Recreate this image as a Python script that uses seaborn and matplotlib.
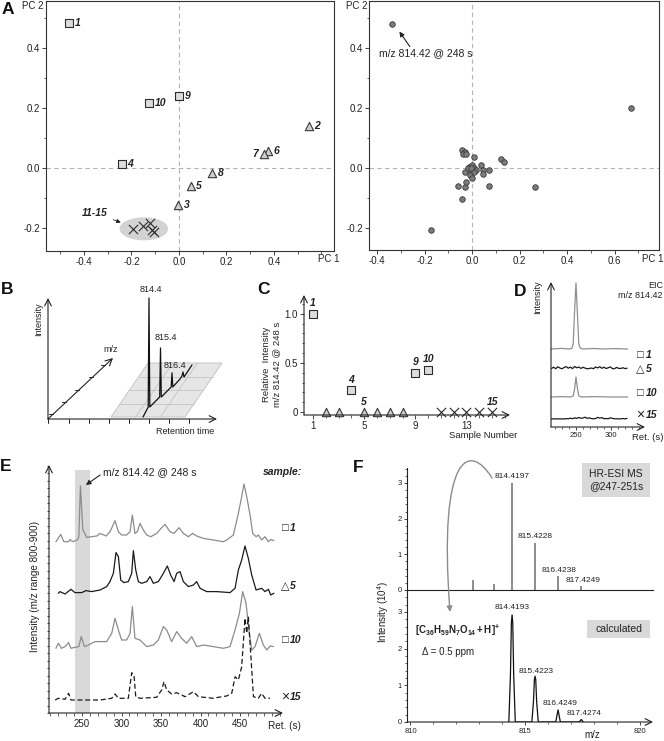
import matplotlib
matplotlib.use("Agg")
import numpy as np
import pandas as pd
import matplotlib.pyplot as plt
import seaborn as sns
from matplotlib.patches import Ellipse, Polygon, Rectangle, FancyArrowPatch
from matplotlib.path import Path
from matplotlib.ticker import MultipleLocator, FixedLocator, FixedFormatter, FormatStrFormatter, NullFormatter

# ------------------------------------------------------------------ data
samples = [1, 2, 3, 4, 5, 6, 7, 8, 9, 10, 11, 12, 13, 14, 15]
sample_group = ['sq', 'tri', 'tri', 'sq', 'tri', 'tri', 'tri', 'tri', 'sq', 'sq',
                'x', 'x', 'x', 'x', 'x']

# A: PCA scores
score_pc1 = [-0.463, 0.547, -0.004, -0.240, 0.050, 0.375, 0.358, 0.139, 0.000, -0.126,
             -0.194, -0.152, -0.122, -0.114, -0.105]
score_pc2 = [0.483, 0.140, -0.123, 0.013, -0.060, 0.057, 0.047, -0.017, 0.240, 0.217,
             -0.203, -0.193, -0.183, -0.207, -0.213]
A_labelled = [1, 2, 3, 4, 5, 6, 7, 8, 9, 10]

# A: PCA loadings
load_pc1 = [-0.337, 0.671, 0.267, -0.171, -0.042, -0.059, -0.028, -0.024, 0.073, -0.042,
            -0.031, -0.039, -0.024, 0.010, 0.122, 0.133, 0.039, 0.045, 0.045, 0.070,
            -0.014, 0.000, 0.007, 0.017, -0.007, 0.007, -0.031, -0.010, 0.000, -0.018, -0.003]
load_pc2 = [0.482, 0.199, -0.064, -0.207, -0.104, -0.059, -0.062, -0.046, -0.059, 0.062,
            0.054, 0.047, 0.047, 0.036, 0.030, 0.022, 0.012, -0.007, -0.018, -0.007,
            0.004, 0.010, -0.001, -0.007, -0.012, -0.012, -0.012, -0.023, -0.034, -0.001, -0.001]

# B: schematic mass spectrum
B_mz = [814.4, 815.4, 816.4]
B_rel = [1.0, 0.45, 0.13]

# C: relative intensity of m/z 814.42 @ 248 s
C_rel = [1.0, 0, 0, 0.22, 0, 0, 0, 0, 0.40, 0.43, 0, 0, 0, 0, 0]
C_labelled = [1, 4, 5, 9, 10, 15]

# D: EIC traces (time s, intensity)
D_names = ['1', '5', '10', '15']
D_symbols = ['\u25a1', '\u25b3', '\u25a1', '\u00d7']
D_t1 = [214, 230, 240, 244, 246, 248, 250, 252, 254, 256, 260, 275, 290, 305, 324]
D_i1 = [0, 0.6, 0, 0.5, 5, 38, 66, 36, 5, 1, 0, 0.5, 0, 0.4, 0]
D_t5 = [215, 218, 221, 224, 227, 230, 233, 236, 239, 242, 245, 248, 251, 254, 257, 260, 263,
        266, 269, 272, 275, 278, 281, 284, 287, 290, 293, 296, 299, 302, 305, 308, 311, 314,
        317, 320, 323]
D_i5 = [0.5, 1.8, 0.3, 2.2, 1.0, 0.2, 1.5, 2.4, 0.8, 1.9, 0.4, 2.5, 1.2, 2.0, 0.6, 1.7, 0.9,
        0.2, 0.5, 1.0, 0.3, 2.0, 1.1, 2.3, 0.7, 1.8, 0.5, 1.2, 2.1, 0.4, 0.3, 1.6, 0.6, 0.5,
        1.3, 0.4, 0.8]
D_t10 = [214, 230, 242, 246, 248, 250, 252, 254, 258, 275, 300, 324]
D_i10 = [0, 0.4, 0, 1, 8, 20, 9, 1, 0, 0.4, 0, 0]
D_t15 = D_t5
D_i15 = [0, 0.2, 0, 0.3, 0, 0.2, 0, 0.4, 0.2, 0.8, 0.3, 1.2, 0.6, 1.5, 0.8, 1.0, 1.8, 0.6,
         1.2, 0.4, 0.2, 0.5, 1.6, 0.9, 1.4, 0.3, 0.5, 0.2, 1.2, 0.6, 0.2, 0.3, 0, 0.2, 0.5,
         0.1, 0.6]

# E: base peak chromatograms m/z 800-900
E_names = ['1', '5', '10', '15']
E_t1 = [217, 223, 227, 233, 235, 238, 244, 246, 248, 251, 256, 262, 268.6, 272.8, 280.4,
        285.4, 291.8, 296, 300.2, 306.5, 310.8, 313.7, 317, 320, 323.4, 327.6, 331.9, 337,
        344.5, 350, 355, 361.4, 366.5, 372.8, 378.3, 384.6, 390, 395.1, 403.6, 416.2, 428.9,
        433.1, 441.6, 447.9, 452.1, 455, 458.5, 462.7, 466.1, 470.3, 473.2, 477.4, 481.6,
        485.9, 488.8, 493]
E_i1 = [0, 7.3, 0, 0, 2.3, 0, 1.7, 5, 55.7, 12, 4.3, 5, 5.7, 8.3, 5.7, 10, 21, 10, 6.7, 6.7,
        10, 26.7, 8.3, 10, 18.3, 11.7, 6.7, 5, 8.3, 13.3, 17.3, 10, 8.3, 14, 8.3, 5, 8.3, 5.7,
        3.3, 1.7, 0, 1.7, 6.7, 28.3, 45, 57.7, 45, 26.7, 8.3, 5, 6.7, 1.7, 5, 0, 2.3, 1]
E_t5 = [220, 222, 228.5, 236, 241, 249.6, 255, 262, 272.8, 281.2, 285.4, 289.7, 293, 296,
        299, 303, 308.6, 312.9, 315, 318, 321.3, 325.5, 331.9, 336, 340.3, 346.6, 353, 358,
        362.2, 366.5, 369.8, 374, 378.3, 384.6, 391, 395.1, 399.4, 407.8, 420.5, 437.3,
        443.7, 447.9, 452.1, 456.3, 460.5, 464.8, 470.3, 477.4, 481.6, 485.9, 488.8, 493]
E_i5 = [0, 1.7, -0.7, 4, 0.7, 0.7, 2.7, 1.7, 3.3, 6.7, 11.7, 20, 40.7, 36.7, 13.3, 10.7,
        11.7, 20, 42.7, 23.3, 11.7, 10, 11.7, 16.7, 10, 11.7, 20, 27.3, 18.3, 11.7, 20, 21.7,
        11.7, 6.7, 8.3, 11.7, 5, 1.7, 1.7, 0.7, 5, 23.3, 33.3, 47.3, 35, 18.3, 3.3, 5, 1.7,
        4, -1.7, 0]
E_t10 = [217, 220, 224, 228.5, 233, 236, 241, 246, 249, 253, 258, 266.5, 272.8, 281.2,
         287.6, 291.8, 296, 300.2, 306.5, 310.8, 313.7, 317, 323.4, 331.9, 340.3, 346.6, 353,
         357.2, 363.5, 369.8, 376, 382.5, 388.8, 395.1, 403.6, 416.2, 428.9, 437.3, 443.7,
         449.2, 453.4, 457.6, 461.8, 464.8, 469, 474.5, 479.5, 483.8, 488, 492.2]
E_i10 = [0, 5, 0, 1.7, 5.7, 0, 1, 1.7, 11.7, 1.7, 3.3, 6.7, 6.7, 6.7, 15, 30, 18.3, 8.3, 8.3,
         15, 41.7, 10, 8.3, 1.7, 3.3, 8.3, 21.7, 18.3, 6.7, 16.7, 10, 5, 11.7, 1.7, 3.3, 1.7,
         0, 1.7, 18.3, 35, 56.7, 45, 15, -1.7, 1.7, 15, 3.3, -1.7, 2.3, 1.7]
E_t15 = [216, 220, 228.5, 233, 236, 247.5, 272.8, 287.6, 291.8, 296, 308.6, 312.9, 315.8,
         318, 323.4, 344.5, 350.8, 353.8, 357.2, 363.5, 369.8, 376, 380.4, 391, 397.3, 416.2,
         426.8, 433.1, 439.5, 443.7, 447.9, 452.1, 456.3, 458.5, 460.5, 463.5, 467, 473.2,
         477.4, 481.6, 488]
E_i15 = [0, 1.7, 0.7, 6.7, 0, 0, 0, 1.7, 6, 1.7, 1.7, 27.3, 25, 3.3, 1.7, 2.7, 10, 18.3, 10,
         6, 7.3, 5, 3.3, 8.3, 3.3, 1.7, 3.3, 4, 6.7, 23.3, 20, 33.3, 81.7, 66.7, 83.3, 46.7,
         3.3, 1.7, 6.7, 1.7, 1.7]
E_band = [240.5, 260]

# F: HR-ESI MS (measured sticks) and calculated isotope pattern
F_exp_mz = [812.70, 813.62, 814.4197, 815.4228, 816.4238, 817.4249]
F_exp_int = [0.28, 0.18, 3.0, 1.32, 0.38, 0.10]
F_exp_labels = ['', '', '814.4197', '815.4228', '816.4238', '817.4249']
F_calc_mz = [814.28, 814.35, 814.39, 814.42, 814.45, 814.49, 814.56,
             815.28, 815.35, 815.39, 815.42, 815.45, 815.49, 815.56,
             816.32, 816.38, 816.42, 816.46, 816.52,
             817.34, 817.43, 817.52]
F_calc_int = [0, 1.3, 2.7, 2.92, 2.7, 1.3, 0,
              0, 0.55, 1.15, 1.25, 1.15, 0.55, 0,
              0, 0.2, 0.33, 0.2, 0,
              0, 0.07, 0]
F_calc_peaks = [814.4193, 815.4223, 816.4249, 817.4274]
F_calc_heights = [2.92, 1.25, 0.33, 0.07]

# ------------------------------------------------------------------ style
sns.set_theme(style="ticks")
plt.rcParams['font.family'] = ['Liberation Sans', 'DejaVu Sans']
plt.rcParams['mathtext.fontset'] = 'custom'
plt.rcParams['mathtext.rm'] = 'Liberation Sans'
plt.rcParams['mathtext.it'] = 'Liberation Sans:italic'
plt.rcParams['mathtext.bf'] = 'Liberation Sans:bold'
plt.rcParams['axes.unicode_minus'] = False
plt.rcParams['axes.facecolor'] = 'white'

INK = '#222222'
W, H = 664, 741
fig = plt.figure(figsize=(W / 100, H / 100), dpi=100)
fig.patch.set_facecolor('white')


def box(x0, y0, x1, y1):
    ax = fig.add_axes([x0 / W, 1 - y1 / H, (x1 - x0) / W, (y1 - y0) / H])
    ax.patch.set_alpha(0)
    return ax


def ftext(x, y, s, **kw):
    kw.setdefault('ha', 'center')
    kw.setdefault('va', 'center')
    kw.setdefault('color', INK)
    return fig.text(x / W, 1 - y / H, s, **kw)


def arrow_axes(ax, x=True, y=True):
    for sp in ax.spines.values():
        sp.set_visible(False)
    ap = dict(arrowstyle='->', lw=0.8, color=INK, shrinkA=0, shrinkB=0)
    if x:
        ax.annotate('', xy=(1, 0), xytext=(0, 0), xycoords='axes fraction',
                    arrowprops=ap, annotation_clip=False)
    if y:
        ax.annotate('', xy=(0, 1), xytext=(0, 0), xycoords='axes fraction',
                    arrowprops=ap, annotation_clip=False)


def ticks(ax, size=7, major=3, minor=1.8, pad=1.5):
    ax.tick_params(which='major', direction='out', length=major, width=0.6, color=INK,
                   labelsize=size, labelcolor=INK, pad=pad)
    ax.tick_params(which='minor', direction='out', length=minor, width=0.5, color=INK)


MARK = {
    'sq': dict(marker='s', s=28, color='#dcdcdc', edgecolor='#2b2b2b', linewidth=0.8),
    'tri': dict(marker='^', s=36, color='#cfcfcf', edgecolor='#3a3a3a', linewidth=0.8),
    'x': dict(marker='x', s=44, color='#2b2b2b', linewidth=0.8),
}
NUM = dict(fontsize=7.5, fontweight='bold', fontstyle='italic', color=INK)

# ------------------------------------------------------------------ A left: scores
axA1 = box(46, 1, 334, 251)
dfA = pd.DataFrame({'pc1': score_pc1, 'pc2': score_pc2, 'group': sample_group,
                    'sample': samples})
axA1.add_patch(Ellipse((-0.148, -0.203), 0.205, 0.077, facecolor='#d3d3d3',
                       edgecolor='none', zorder=1))
axA1.axhline(0, color='#b3b3b3', lw=0.8, ls=(0, (4, 3)), zorder=0.5)
axA1.axvline(0, color='#b3b3b3', lw=0.8, ls=(0, (4, 3)), zorder=0.5)
for g, st in MARK.items():
    sns.scatterplot(data=dfA[dfA.group == g], x='pc1', y='pc2', ax=axA1, legend=False,
                    zorder=3, **st)
for smp, x, y in zip(samples, score_pc1, score_pc2):
    if smp in A_labelled:
        left = smp == 7
        axA1.annotate(str(smp), (x, y), xytext=(-4 if left else 4, 0),
                      textcoords='offset points', ha='right' if left else 'left',
                      va='center', **NUM)
axA1.annotate('11-15', xy=(-0.245, -0.182), xytext=(-0.356, -0.149),
              ha='center', va='center', **NUM,
              arrowprops=dict(arrowstyle='-|>', lw=0.6, color=INK, mutation_scale=6,
                              shrinkA=2, shrinkB=0))
axA1.set(xlim=(-0.56, 0.653), ylim=(-0.277, 0.557), xlabel='', ylabel='')
axA1.xaxis.set_major_locator(FixedLocator([-0.4, -0.2, 0.0, 0.2, 0.4]))
axA1.yaxis.set_major_locator(FixedLocator([-0.2, 0.0, 0.2, 0.4]))
for a in (axA1.xaxis, axA1.yaxis):
    a.set_minor_locator(MultipleLocator(0.1))
    a.set_major_formatter(FormatStrFormatter('%.1f'))
for sp in axA1.spines.values():
    sp.set_visible(True)
    sp.set_color('#333333')
    sp.set_linewidth(0.8)
ticks(axA1, size=7, major=3, minor=1.8)
ftext(43, 6, 'PC 2', ha='right', fontsize=7)
ftext(340, 259, 'PC 1', ha='right', fontsize=7)

# ------------------------------------------------------------------ A right: loadings
axA2 = box(369, 1, 659, 250)
axA2.axhline(0, color='#b3b3b3', lw=0.8, ls=(0, (4, 3)), zorder=0.5)
axA2.axvline(0, color='#b3b3b3', lw=0.8, ls=(0, (4, 3)), zorder=0.5)
sns.scatterplot(x=load_pc1, y=load_pc2, ax=axA2, s=16, color='#7b7b7b',
                edgecolor='#3a3a3a', linewidth=0.6, legend=False, zorder=3)
axA2.text(-0.393, 0.383, 'm/z 814.42 @ 248 s', fontsize=7.5, ha='left', va='center',
          color=INK)
axA2.annotate('', xy=(-0.306, 0.455), xytext=(-0.262, 0.405),
              arrowprops=dict(arrowstyle='-|>', lw=0.8, color=INK, mutation_scale=7,
                              shrinkA=0, shrinkB=0))
axA2.set(xlim=(-0.434, 0.787), ylim=(-0.273, 0.557), xlabel='', ylabel='')
axA2.xaxis.set_major_locator(FixedLocator([-0.4, -0.2, 0.0, 0.2, 0.4, 0.6]))
axA2.yaxis.set_major_locator(FixedLocator([-0.2, 0.0, 0.2, 0.4]))
for a in (axA2.xaxis, axA2.yaxis):
    a.set_minor_locator(MultipleLocator(0.1))
    a.set_major_formatter(FormatStrFormatter('%.1f'))
for sp in axA2.spines.values():
    sp.set_visible(True)
    sp.set_color('#333333')
    sp.set_linewidth(0.8)
ticks(axA2, size=7, major=3, minor=1.8)
ftext(367, 6, 'PC 2', ha='right', fontsize=7)
ftext(663, 259, 'PC 1', ha='right', fontsize=7)

# ------------------------------------------------------------------ B: schematic
axB = box(20, 280, 232, 442)
axB.set_xlim(20, 232)
axB.set_ylim(442, 280)
axB.axis('off')
BL, BR, TR, TL = (111, 417), (185, 417), (222, 363), (148, 363)
axB.add_patch(Polygon([BL, BR, TR, TL], closed=True, facecolor='#e6e6e6',
                      edgecolor='#bfbfbf', lw=0.6, zorder=1))
for k in (1, 2, 3):
    yy = 417 - k * 54 / 4
    axB.plot([111 + k * 37 / 4, 185 + k * 37 / 4], [yy, yy], color='#c4c4c4', lw=0.6, zorder=1)
for k in (1, 2):
    axB.plot([111 + k * 74 / 3, 148 + k * 74 / 3], [417, 363], color='#c4c4c4', lw=0.6, zorder=1)
bap = dict(arrowstyle='->', lw=0.8, color=INK, shrinkA=0, shrinkB=0)
axB.annotate('', xy=(48, 298), xytext=(48, 419), arrowprops=bap)
axB.annotate('', xy=(217, 419), xytext=(48, 419), arrowprops=bap)
axB.annotate('', xy=(113, 358), xytext=(48, 419), arrowprops=bap)
for xt in (48, 69, 89, 109, 129, 149, 169, 189):
    axB.plot([xt, xt], [419, 423], color=INK, lw=0.7)
for f in (0.08, 0.28, 0.48, 0.69, 0.88):
    px, py = 48 + 65 * f, 419 - 61 * f
    axB.plot([px - 4, px], [py, py], color=INK, lw=0.7)
sx, sy = [143], [417]
for mz, rel in zip(B_mz, B_rel):
    bx = 149 + (mz - 814.4) * 11.5
    by = 407 - (mz - 814.4) * 10
    sx += [bx - 0.8, bx, bx + 0.8]
    sy += [by, by - rel * 109, by]
sx += [180, 182, 183, 184, 192]
sy += [379, 376, 372, 377, 365]
axB.plot(sx, sy, color='#111111', lw=0.9, zorder=3)
for mz, (lx, ly) in zip(B_mz, [(151, 290), (166, 338), (175, 366)]):
    axB.text(lx, ly, f'{mz:.1f}', fontsize=6.5, ha='center', va='center', color=INK, zorder=4)
axB.text(39, 319, 'Intensity', rotation=90, fontsize=6.5, ha='center', va='center', color=INK)
axB.text(111, 350, 'm/z', fontsize=6.5, ha='center', va='center', color=INK)
axB.text(185, 432, 'Retention time', fontsize=6.5, ha='center', va='center', color=INK)

# ------------------------------------------------------------------ C
axC = box(304, 295, 510, 415)
dfC = pd.DataFrame({'sample': samples, 'rel': C_rel, 'group': sample_group})
for g, st in MARK.items():
    sns.scatterplot(data=dfC[dfC.group == g], x='sample', y='rel', ax=axC, legend=False,
                    zorder=3, clip_on=False, **st)
for smp, v in zip(samples, C_rel):
    if smp in C_labelled:
        axC.annotate(str(smp), (smp, v), xytext=(0, 7.5), textcoords='offset points',
                     ha='center', va='center', **NUM)
axC.set(xlim=(0.3, 16.4), ylim=(-0.03, 1.19), xlabel='', ylabel='')
arrow_axes(axC)
axC.xaxis.set_major_locator(FixedLocator([1, 5, 9, 13]))
axC.xaxis.set_minor_locator(MultipleLocator(1))
axC.yaxis.set_major_locator(FixedLocator([0, 0.5, 1.0]))
axC.yaxis.set_major_formatter(FixedFormatter(['0', '0.5', '1.0']))
axC.yaxis.set_minor_locator(MultipleLocator(0.1))
ticks(axC, size=7, major=3, minor=1.8)
ftext(483, 435, 'Sample Number', fontsize=6.8)
ftext(272, 364, 'Relative  Intensity\nm/z 814.42 @ 248 s', rotation=90, fontsize=6.8,
      linespacing=1.15)

# ------------------------------------------------------------------ D
axD = box(551, 282, 645, 427)
D_traces = [(D_t1, D_i1), (D_t5, D_i5), (D_t10, D_i10), (D_t15, D_i15)]
D_offsets = [78, 58, 30, 8]
D_colors = ['#8f8f8f', '#1a1a1a', '#8f8f8f', '#1a1a1a']
for (t, it), off, c in zip(D_traces, D_offsets, D_colors):
    sns.lineplot(x=np.array(t, float), y=np.array(it, float) + off, ax=axD, color=c,
                 lw=0.9, estimator=None, sort=False, legend=False)
axD.set(xlim=(214.3, 348.6), ylim=(0, 145), xlabel='', ylabel='')
arrow_axes(axD)
axD.xaxis.set_major_locator(FixedLocator([250, 300]))
axD.xaxis.set_minor_locator(MultipleLocator(10))
axD.yaxis.set_major_locator(FixedLocator([]))
ticks(axD, size=5.5, major=2.5, minor=1.6, pad=1)
for nm, sym, yy in zip(D_names, D_symbols, [355, 369, 393, 415]):
    ftext(640, yy, sym, fontsize=8 if sym != '\u00d7' else 10)
    ftext(646, yy, nm, ha='left', **NUM)
ftext(663, 285, 'EIC', ha='right', fontsize=6.5)
ftext(663, 296, 'm/z 814.42', ha='right', fontsize=6.5)
ftext(538, 297, 'Intensity', rotation=90, fontsize=6.5)
ftext(648, 437, 'Ret. (s)', fontsize=6.8)

# ------------------------------------------------------------------ E
axE = box(49, 465, 283, 713)
axE.axvspan(E_band[0], E_band[1], ymin=0, ymax=243 / 248, color='#d9d9d9', lw=0, zorder=0)
E_traces = [(E_t1, E_i1), (E_t5, E_i5), (E_t10, E_i10), (E_t15, E_i15)]
E_offsets = [171.3, 119.7, 64.7, 13]
E_colors = ['#8c8c8c', '#1a1a1a', '#8c8c8c', '#1a1a1a']
for k, ((t, it), off, c) in enumerate(zip(E_traces, E_offsets, E_colors)):
    sns.lineplot(x=np.array(t, float), y=np.array(it, float) + off, ax=axE, color=c,
                 lw=0.9, estimator=None, sort=False, legend=False)
    if k == 3:
        axE.lines[-1].set_dashes([4, 2.2])
axE.set(xlim=(208.2, 504.4), ylim=(0, 248), xlabel='', ylabel='')
arrow_axes(axE)
axE.xaxis.set_major_locator(FixedLocator([250, 300, 350, 400, 450]))
axE.xaxis.set_minor_locator(MultipleLocator(10))
axE.yaxis.set_major_locator(MultipleLocator(7.5))
axE.yaxis.set_major_formatter(NullFormatter())
ticks(axE, size=7, major=2.5, minor=1.8, pad=2)
axE.tick_params(axis='y', which='major', length=1.8)
axE.annotate('', xy=(255, 228), xytext=(272.8, 238),
             arrowprops=dict(arrowstyle='-|>', lw=0.8, color=INK, mutation_scale=7,
                             shrinkA=0, shrinkB=0))
axE.text(276.5, 241, 'm/z 814.42 @ 248 s', fontsize=7.5, ha='left', va='center', color=INK)
ftext(302, 472, 'sample:', ha='right', **NUM)
for nm, sym, yy in zip(E_names, D_symbols, [528, 586, 640, 697]):
    ftext(285, yy, sym, fontsize=8 if sym != '\u00d7' else 10)
    ftext(290, yy, nm, ha='left', **NUM)
ftext(35, 587, 'Intensity (m/z range 800-900)', rotation=90, fontsize=7.2)
ftext(284, 726, 'Ret. (s)', fontsize=7.2)

# ------------------------------------------------------------------ F
XL = (809.85, 820.55)
axF1 = box(407, 468, 653, 590)
axF1.vlines(F_exp_mz, 0, F_exp_int, color='#6e6e6e', lw=1.1)
for mz, v, lab in zip(F_exp_mz, F_exp_int, F_exp_labels):
    if lab:
        dx = {'814.4197': 0, '815.4228': 0, '816.4238': 0.05, '817.4249': 0.1}[lab]
        axF1.text(mz + dx, v + 0.17, lab, fontsize=6, ha='center', va='center', color=INK)
axF1.set(xlim=XL, ylim=(0, 3.42), xlabel='', ylabel='')
for s in ('top', 'right'):
    axF1.spines[s].set_visible(False)
for s in ('left', 'bottom'):
    axF1.spines[s].set_color(INK)
    axF1.spines[s].set_linewidth(0.8)
axF1.yaxis.set_major_locator(FixedLocator([0, 1, 2, 3]))
axF1.yaxis.set_minor_locator(MultipleLocator(0.2))
ticks(axF1, size=5.5, major=2.5, minor=1.5, pad=1.5)
axF1.tick_params(axis='x', which='both', bottom=False, labelbottom=False)

axF2 = box(407, 590, 653, 722)
sns.lineplot(x=F_calc_mz, y=F_calc_int, ax=axF2, color='#111111', lw=0.9,
             estimator=None, sort=False, legend=False)
for mz, v, (dx, dy) in zip(F_calc_peaks, F_calc_heights,
                           [(0, 0.2), (0.03, 0.14), (0.08, 0.18), (0.13, 0.17)]):
    axF2.text(mz + dx, v + dy, f'{mz:.4f}', fontsize=6, ha='center', va='center', color=INK)
axF2.set(xlim=XL, ylim=(0, 3.6), xlabel='', ylabel='')
arrow_axes(axF2, x=True, y=False)
axF2.spines['left'].set_visible(True)
axF2.spines['left'].set_color(INK)
axF2.spines['left'].set_linewidth(0.8)
axF2.xaxis.set_major_locator(FixedLocator([810, 815, 820]))
axF2.xaxis.set_minor_locator(MultipleLocator(1))
axF2.yaxis.set_major_locator(FixedLocator([0, 1, 2, 3]))
axF2.yaxis.set_minor_locator(MultipleLocator(0.2))
ticks(axF2, size=5.5, major=2.5, minor=1.5, pad=1.5)
ftext(383, 612, 'Intensity (10$^4$)', rotation=90, fontsize=7)
ftext(592, 735, 'm/z', fontsize=7)
ftext(415, 630, r'$\mathbf{[C_{36}H_{59}N_{7}O_{14}+H]^{+}}$', ha='left', fontsize=7)
ftext(422, 652, '\u0394 = 0.5 ppm', ha='left', fontsize=7)

# ------------------------------------------------------------------ overlay
ov = fig.add_axes([0, 0, 1, 1], facecolor='none')
ov.set_xlim(0, W)
ov.set_ylim(H, 0)
ov.axis('off')
ov.add_patch(Rectangle((582, 463), 68, 34, facecolor='#d9d9d9', edgecolor='none'))
ov.text(616, 480, 'HR-ESI MS\n@247-251s', ha='center', va='center', fontsize=7.5,
        linespacing=1.25, color=INK)
ov.add_patch(Rectangle((587, 620), 63, 18, facecolor='#d9d9d9', edgecolor='none'))
ov.text(618.5, 629, 'calculated', ha='center', va='center', fontsize=7.5, color=INK)
curve = Path([(492, 478), (470, 442), (438, 452), (450, 612)],
             [Path.MOVETO, Path.CURVE4, Path.CURVE4, Path.CURVE4])
ov.add_patch(FancyArrowPatch(path=curve, arrowstyle='-|>', mutation_scale=8,
                             color='#8c8c8c', lw=1.0))

for letter, (lx, ly) in zip('ABCDEF', [(8, 9), (7, 289), (263, 289), (520, 291),
                                       (6, 467), (358, 468)]):
    ftext(lx, ly, letter, fontsize=12.5, fontweight='bold', color='#111111')

fig.savefig('out.png', dpi=100, facecolor='white')
